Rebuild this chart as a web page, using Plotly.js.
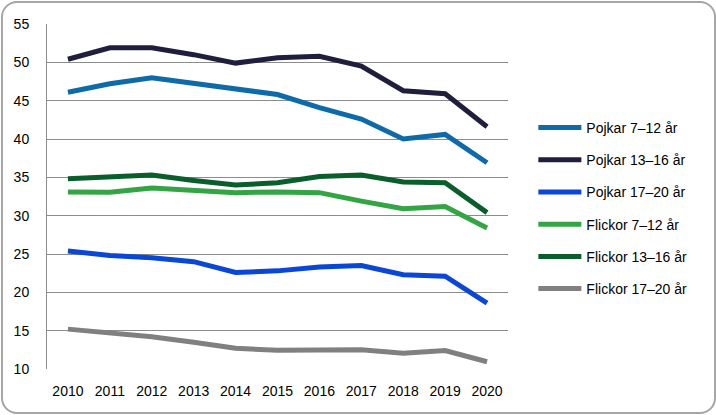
<!DOCTYPE html>
<html>
<head>
<meta charset="utf-8">
<script src="https://cdn.plot.ly/plotly-3.0.1.min.js"></script>
<style>
  body { margin: 0; background: #fff; }
  #wrap { position: relative; width: 716px; height: 415px; }
  #frame { position: absolute; left: 1px; top: 1px; width: 711px; height: 409px;
           border: 2px solid #a6a6a6; border-radius: 16px; pointer-events: none; }
  #chart { position: absolute; left: 0; top: 0; width: 716px; height: 415px; }
</style>
</head>
<body>
<div id="wrap">
  <div id="chart"></div>
  <div id="frame"></div>
</div>
<script>
// years on the x axis
var years = ['2010','2011','2012','2013','2014','2015','2016','2017','2018','2019','2020'];

// one array per group
var pojkar712  = [46.1, 47.2, 48.0, 47.3, 46.6, 45.8, 44.1, 42.6, 40.0, 40.6, 36.9];
var pojkar1316 = [50.4, 51.9, 51.9, 51.0, 49.9, 50.6, 50.8, 49.5, 46.3, 45.9, 41.6];
var pojkar1720 = [25.4, 24.8, 24.5, 24.0, 22.6, 22.8, 23.3, 23.5, 22.3, 22.1, 18.6];
var flickor712  = [33.1, 33.05, 33.6, 33.3, 33.0, 33.1, 33.0, 31.9, 30.9, 31.2, 28.4];
var flickor1316 = [34.8, 35.1, 35.3, 34.6, 34.0, 34.3, 35.1, 35.3, 34.4, 34.3, 30.4];
var flickor1720 = [15.2, 14.7, 14.2, 13.5, 12.7, 12.45, 12.55, 12.5, 12.05, 12.4, 10.95];

var names  = ['Pojkar 7\u201312 år','Pojkar 13\u201316 år','Pojkar 17\u201320 år',
              'Flickor 7\u201312 år','Flickor 13\u201316 år','Flickor 17\u201320 år'];
var series = [pojkar712, pojkar1316, pojkar1720, flickor712, flickor1316, flickor1720];
var colors = ['#0e6ba8','#1f1f3d','#0a47d4','#33a545','#0a5e2c','#808080'];

var data = [];
for (var i = 0; i < series.length; i++) {
  data.push({
    x: years,
    y: series[i],
    name: names[i],
    legendgroup: 'g' + i,
    mode: 'lines',
    type: 'scatter',
    line: {color: colors[i], width: 5}
  });
}

var txtfont = {family: 'Liberation Sans, Arial, sans-serif', size: 14, color: '#000'};

var layout = {
  width: 716,
  height: 415,
  margin: {l: 47, r: 208, t: 24, b: 46},
  paper_bgcolor: '#fff',
  plot_bgcolor: '#fff',
  font: txtfont,
  showlegend: true,
  legend: {
    x: 1.055, xanchor: 'left',
    y: 0.745, yanchor: 'top',
    traceorder: 'grouped',
    tracegroupgap: 11,
    itemwidth: 43,
    font: txtfont,
    bgcolor: 'rgba(0,0,0,0)'
  },
  xaxis: {
    type: 'category',
    range: [-0.5, 10.5],
    showgrid: false,
    zeroline: false,
    showline: false,
    ticks: 'outside',
    ticklen: 9,
    tickcolor: 'rgba(0,0,0,0)'
  },
  yaxis: {
    range: [10, 55],
    dtick: 5,
    tick0: 10,
    showgrid: true,
    gridcolor: '#8c8c8c',
    gridwidth: 1,
    zeroline: false,
    showline: true,
    linecolor: '#8c8c8c',
    linewidth: 1,
    ticks: 'outside',
    ticklen: 14,
    tickcolor: 'rgba(0,0,0,0)'
  }
};

Plotly.newPlot('chart', data, layout, {staticPlot: true});
</script>
</body>
</html>
